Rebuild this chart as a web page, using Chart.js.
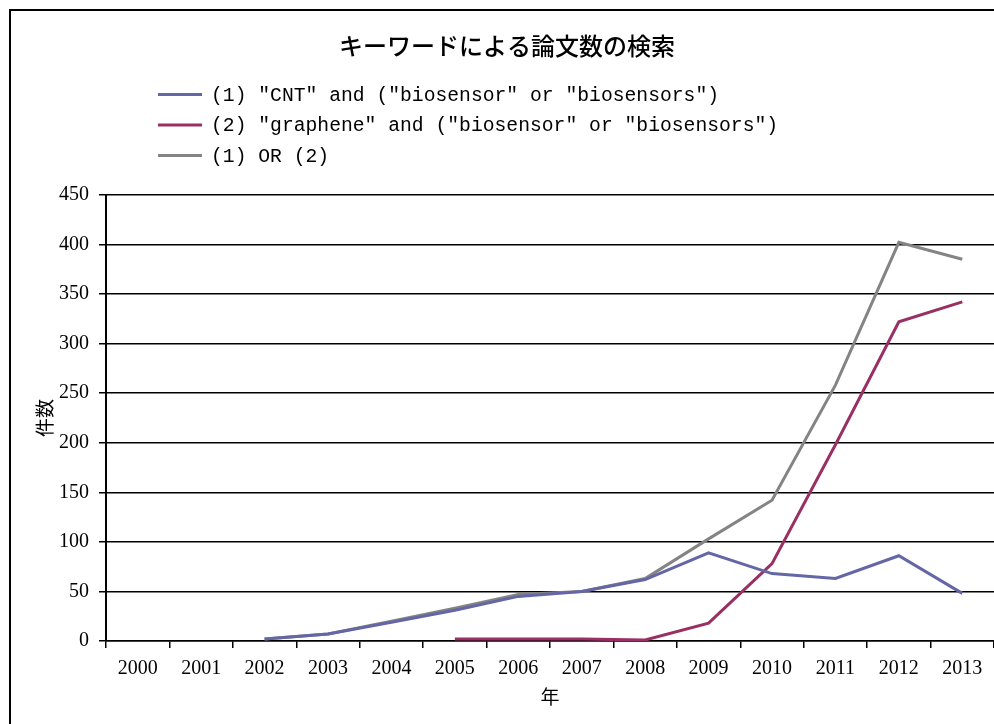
<!DOCTYPE html>
<html>
<head>
<meta charset="utf-8">
<script src="https://cdn.jsdelivr.net/npm/chart.js@4/dist/chart.umd.min.js"></script>
<style>
  html, body { margin: 0; padding: 0; background: #fff; }
  #wrap { width: 994px; height: 724px; position: relative; }
</style>
</head>
<body>
<div id="wrap"><canvas id="chart" width="994" height="724"></canvas></div>
<script>
// Publication years searched
const years = ['2000', '2001', '2002', '2003', '2004', '2005', '2006',
               '2007', '2008', '2009', '2010', '2011', '2012', '2013'];

// Paper counts per year for each keyword query (null = no hits recorded)
const cntCounts      = [null, null, 2, 7, 19, 31, 45, 50, 62, 89, 68, 63, 86, 48];
const grapheneCounts = [null, null, null, null, null, 2, 2, 2, 1, 18, 78, 198, 322, 342];
const unionCounts    = [null, null, 2, 7, 20, 33, 47, 50, 63, 103, 142, 258, 402, 385];

const seriesLabels = [
  '(1) "CNT" and ("biosensor" or "biosensors")',
  '(2) "graphene" and ("biosensor" or "biosensors")',
  '(1) OR (2)'
];

const yTicks = [0, 50, 100, 150, 200, 250, 300, 350, 400, 450];

const colors = ['#6466a6', '#993064', '#848484'];

// White page with the outer frame edge along the top and left
const framePlugin = {
  id: 'frame',
  beforeDraw(chart) {
    const ctx = chart.ctx;
    ctx.save();
    ctx.fillStyle = '#fff';
    ctx.fillRect(0, 0, chart.width, chart.height);
    ctx.strokeStyle = '#000';
    ctx.lineWidth = 2;
    ctx.beginPath();
    ctx.moveTo(10, chart.height);
    ctx.lineTo(10, 10);
    ctx.lineTo(chart.width, 10);
    ctx.stroke();
    ctx.restore();
  }
};

// Stacked legend: one row per dataset, line swatch then label
const stackedLegend = {
  id: 'stackedLegend',
  afterDraw(chart) {
    const ctx = chart.ctx;
    ctx.save();
    ctx.font = '19.7px "Liberation Mono", monospace';
    ctx.textBaseline = 'middle';
    ctx.textAlign = 'left';
    chart.data.datasets.forEach((ds, i) => {
      const y = 94.5 + i * 30.5;
      ctx.strokeStyle = ds.borderColor;
      ctx.lineWidth = 3;
      ctx.beginPath();
      ctx.moveTo(158, y);
      ctx.lineTo(202, y);
      ctx.stroke();
      ctx.fillStyle = '#000';
      ctx.fillText(ds.label, 211, y + 1);
    });
    ctx.restore();
  }
};

const tickFont = { family: '"Liberation Serif", serif', size: 20 };

new Chart(document.getElementById('chart'), {
  type: 'line',
  data: {
    labels: years,
    datasets: [
      { label: seriesLabels[0], data: cntCounts, borderColor: colors[0] },
      { label: seriesLabels[1], data: grapheneCounts, borderColor: colors[1] },
      { label: seriesLabels[2], data: unionCounts, borderColor: colors[2] }
    ].map(d => Object.assign(d, {
      borderWidth: 3,
      pointRadius: 0,
      pointHoverRadius: 0,
      tension: 0,
      fill: false,
      backgroundColor: d.borderColor
    }))
  },
  options: {
    responsive: false,
    animation: false,
    layout: { padding: { left: 20, right: 0, top: 0, bottom: 0 } },
    plugins: {
      legend: { display: false },
      tooltip: { enabled: false },
      title: {
        display: true,
        text: 'キーワードによる論文数の検索',
        color: '#000',
        font: { family: '"Noto Sans CJK JP", sans-serif', size: 24, weight: '500' },
        padding: { top: 31, bottom: 135 }
      }
    },
    scales: {
      x: {
        offset: true,
        grid: {
          offset: true,
          drawOnChartArea: false,
          drawTicks: true,
          tickLength: 7,
          color: '#000',
          lineWidth: 1.5
        },
        border: { color: '#000', width: 1.5 },
        ticks: { color: '#000', font: tickFont, padding: 9, maxRotation: 0, autoSkip: false },
        title: {
          display: true,
          text: '年',
          color: '#000',
          font: { family: '"Noto Sans CJK JP", sans-serif', size: 19, weight: '400' },
          padding: { top: 6, bottom: 16 }
        },
        afterFit(scale) { scale.height = 83; }
      },
      y: {
        min: 0,
        max: 450,
        afterBuildTicks(scale) { scale.ticks = yTicks.map(v => ({ value: v })); },
        grid: {
          color: '#000',
          lineWidth: 1.5,
          drawTicks: true,
          tickLength: 7
        },
        border: { color: '#000', width: 2 },
        ticks: { color: '#000', font: tickFont, padding: 10 },
        title: {
          display: true,
          text: '件数',
          color: '#000',
          font: { family: '"Noto Sans CJK JP", sans-serif', size: 19, weight: '400' },
          padding: { top: 13, bottom: 0 }
        },
        afterFit(scale) { scale.width = 86; }
      }
    }
  },
  plugins: [framePlugin, stackedLegend]
});
</script>
</body>
</html>
